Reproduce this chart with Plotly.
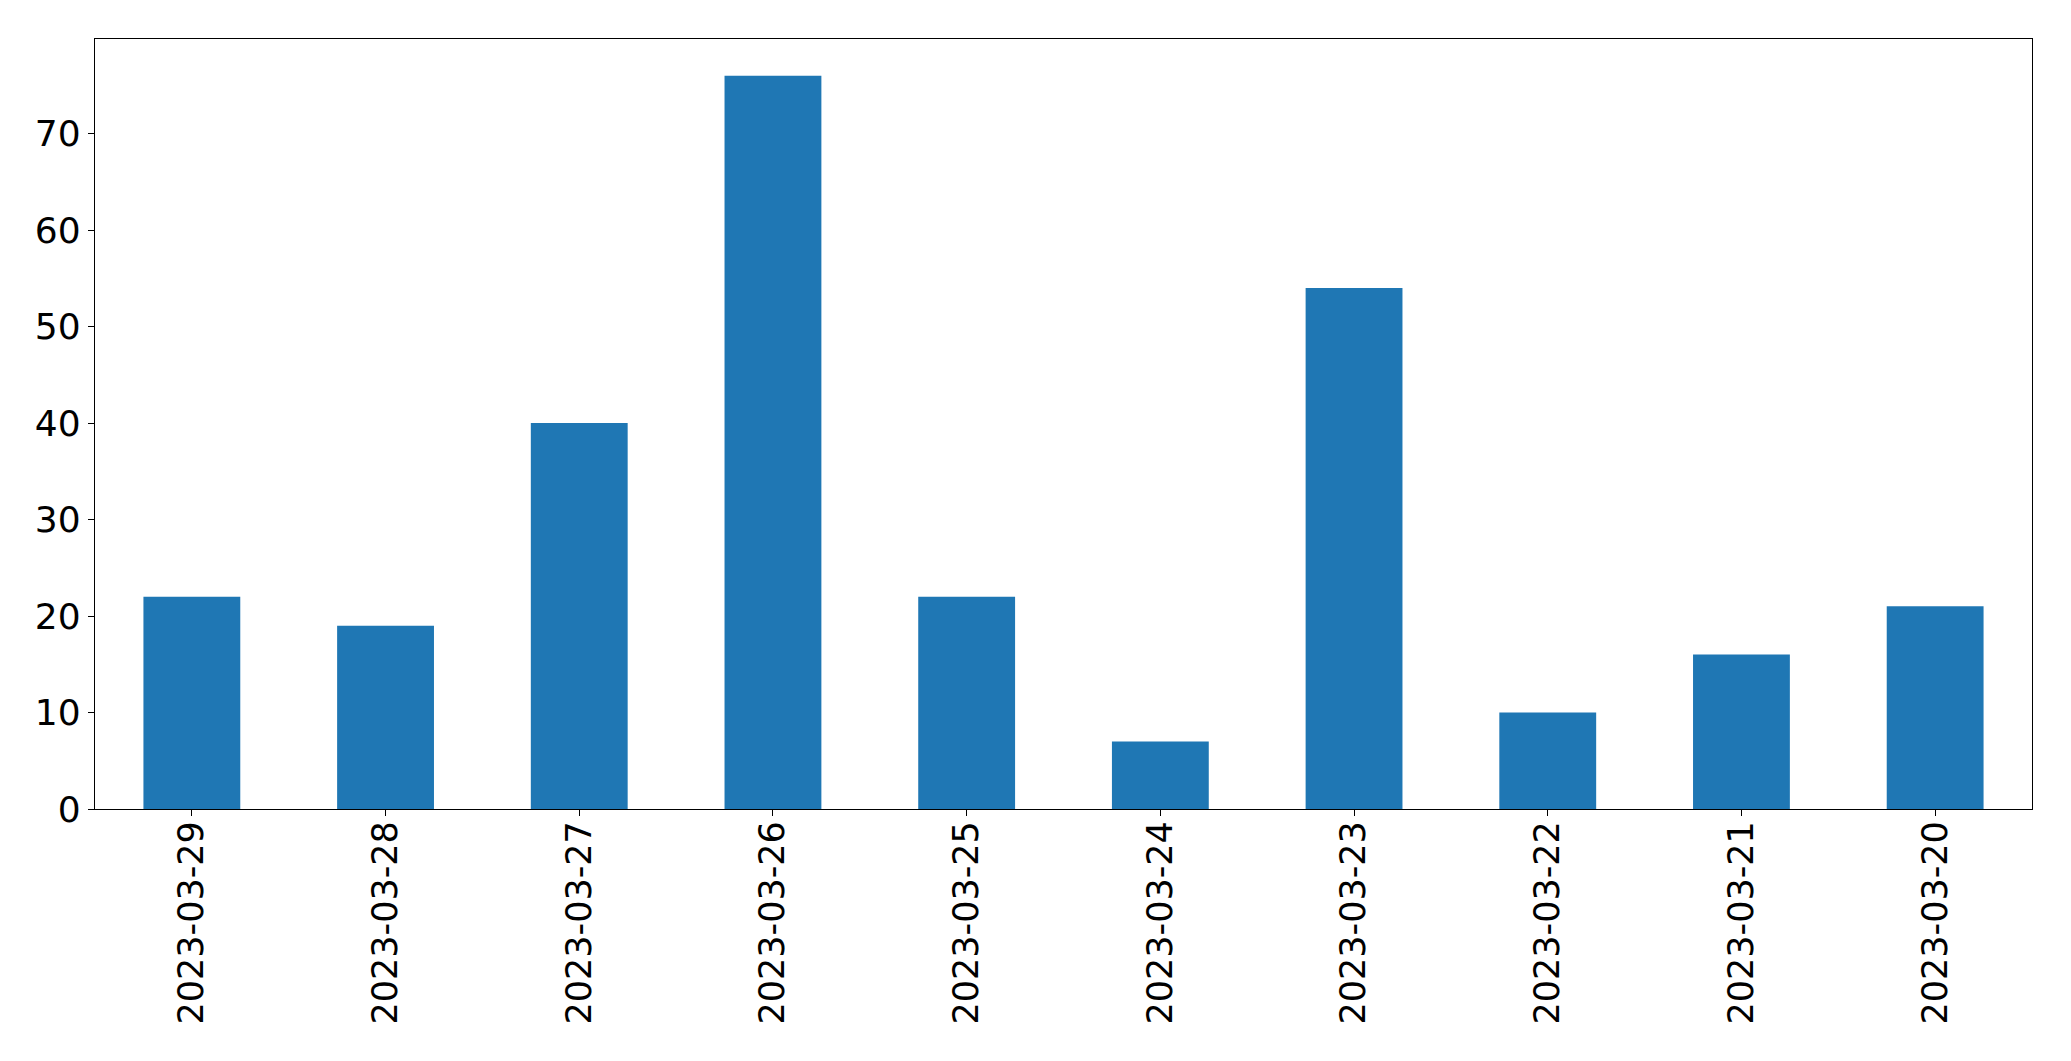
import plotly.graph_objects as go

dates = ["2023-03-29", "2023-03-28", "2023-03-27", "2023-03-26", "2023-03-25",
         "2023-03-24", "2023-03-23", "2023-03-22", "2023-03-21", "2023-03-20"]
counts = [22, 19, 40, 76, 22, 7, 54, 10, 16, 21]
y_ticks = [0, 10, 20, 30, 40, 50, 60, 70]

fig = go.Figure(go.Bar(x=list(range(len(dates))), y=counts, width=0.5,
                       marker=dict(color="#1f77b4", line=dict(width=0))))

# page body has an 8px default margin, so the figure is offset by 8px
fig.update_layout(
    width=2063, height=1053,
    margin=dict(l=87, r=39, t=31, b=252),
    plot_bgcolor="white", paper_bgcolor="white",
    showlegend=False,
    font=dict(family="DejaVu Sans", size=35, color="black"),
)
fig.update_xaxes(
    range=[-0.5, len(dates) - 0.5], automargin=False,
    tickmode="array", tickvals=list(range(len(dates))), ticktext=dates,
    tickangle=-90, ticks="outside", ticklen=6, tickwidth=1.3, tickcolor="black",
    ticklabelstandoff=-9,
    showline=True, linecolor="black", linewidth=1.3, mirror=True,
    showgrid=False, zeroline=False,
)
fig.update_yaxes(
    range=[0, max(counts) * 1.05], automargin=False,
    tickmode="array", tickvals=y_ticks, tickfont=dict(size=36),
    ticks="outside", ticklen=6, tickwidth=1.3, tickcolor="black",
    showline=True, linecolor="black", linewidth=1.3, mirror=True,
    showgrid=False, zeroline=False,
)
fig.write_html("out.html")
